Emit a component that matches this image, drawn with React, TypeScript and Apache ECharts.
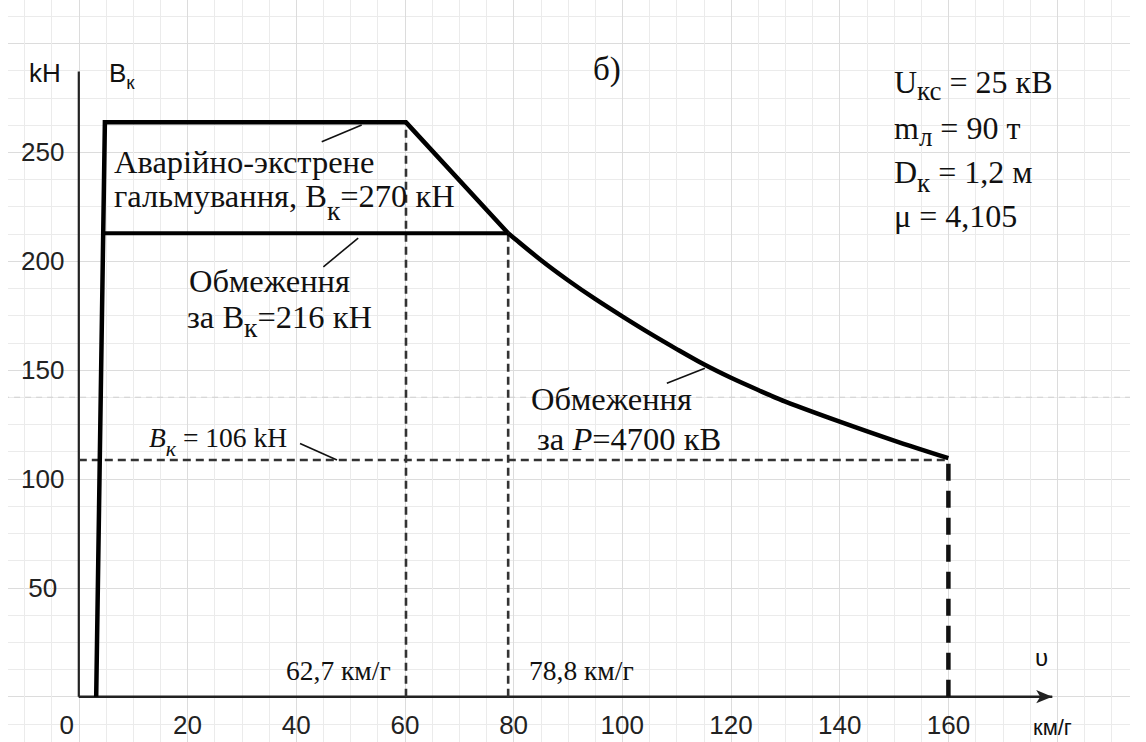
import React, { useEffect, useRef } from 'react';
import * as echarts from 'echarts';

// ---------------- data ----------------
const xTicks = [0, 20, 40, 60, 80, 100, 120, 140, 160];
const yTicks = [50, 100, 150, 200, 250];

// thick characteristic: start-up edge, emergency braking plateau, transition
const brakingEnvelope: [number, number][] = [[3.2, 0], [4.8, 263.7], [60.2, 263.7], [79, 212.8]];
// power-limited part (P = const)
const powerCurve: [number, number][] = [
  [79, 212.8], [85, 200.5], [90, 191.2], [95, 182.6], [100, 174.6], [105, 166.9],
  [110, 159.6], [115, 152.6], [120, 146.4], [125, 140.8], [130, 135.5],
  [140, 126.3], [150, 117.6], [160, 109.5],
];
const adhesionLine: [number, number][] = [[4.5, 212.8], [79, 212.8]];
const guide60: [number, number][] = [[60.2, 0], [60.2, 263.7]];
const guide79: [number, number][] = [[79, 0], [79, 212.8]];
const minForceLine: [number, number][] = [[0, 108.7], [160, 108.7]];
const vMaxLine: [number, number][] = [[160, 0], [160, 109.5]];
const helperDash: [number, number][] = [[-20, 137.5], [200, 137.5]];
const yAxisLine: [number, number][] = [[0, 0], [0, 287]];
const xAxisLine: [number, number][] = [[0, 0], [179.1, 0]];
const leaderTop: [number, number][] = [[44.7, 254.8], [52.05, 262.5]];
const leaderMid: [number, number][] = [[45.0, 197.4], [51.4, 210.5]];
const leaderPower: [number, number][] = [[108.2, 143.9], [115.2, 150.8]];
const leaderMin: [number, number][] = [[40.7, 116.3], [47.5, 108.7]];

// ---------------- styling ----------------
const SERIF = '"Liberation Serif","Times New Roman",serif';
const SANS = '"Liberation Sans",Arial,sans-serif';
const INK = '#111';
const TICK_INK = '#222';

function label(x: number, y: number, text: string, F: number, family: string, S = F, shift = 0, k = 0.3375) {
  const L = Math.round(F * 1.2);
  const p = shift + k * (F - S) + L / 2 - S / 2;
  return {
    type: 'text',
    x,
    y,
    z: 100,
    silent: true,
    style: {
      text,
      align: 'left',
      verticalAlign: 'middle',
      fill: INK,
      rich: {
        m: { fontSize: F, fontFamily: family, fill: INK, lineHeight: L, verticalAlign: 'middle' },
        i: { fontSize: F, fontFamily: family, fontStyle: 'italic', fill: INK, lineHeight: L, verticalAlign: 'middle' },
        s: { fontSize: S, fontFamily: family, fill: INK, lineHeight: 1, verticalAlign: 'top', padding: [p, 0, 0, 0] },
        si: { fontSize: S, fontFamily: family, fontStyle: 'italic', fill: INK, lineHeight: 1, verticalAlign: 'top', padding: [p, 0, 0, 0] },
      },
    },
  };
}

function lineSeries(name: string, data: [number, number][], width: number, type: any, color: string, z: number, smooth: any = false) {
  return {
    name,
    type: 'line',
    xAxisIndex: 0,
    yAxisIndex: 0,
    data,
    symbol: 'none',
    showSymbol: false,
    silent: true,
    smooth,
    clip: false,
    z,
    lineStyle: { width, type, color, join: 'miter', cap: 'butt' },
  };
}

const gridLines = {
  splitLine: { show: true, lineStyle: { color: '#dcdcdc', width: 1 } },
  minorTick: { show: false, splitNumber: 4 },
  minorSplitLine: { show: true, lineStyle: { color: '#ebebeb', width: 1 } },
};

const option: any = {
  animation: false,
  backgroundColor: '#ffffff',
  grid: [
    // background graph paper
    { left: -37.9, right: -35.8, top: -65.6, bottom: -63.6, containLabel: false, outerBoundsMode: 'none' },
    // axes whose origin is the chart origin (tick labels only)
    { left: 70.8, right: -35.8, top: -65.6, bottom: 45.3, containLabel: false, outerBoundsMode: 'none' },
  ],
  xAxis: [
    {
      gridIndex: 0, type: 'value', min: -20, max: 200, interval: 20,
      axisLine: { show: false }, axisTick: { show: false }, axisLabel: { show: false },
      ...gridLines,
    },
    {
      gridIndex: 1, type: 'value', min: 0, max: 200, interval: 20,
      axisLine: { show: false }, axisTick: { show: false }, splitLine: { show: false },
      axisLabel: {
        margin: 15,
        fontSize: 26,
        fontFamily: SANS,
        color: TICK_INK,
        formatter: (v: number) => (v === 0 ? '{z|0}' : xTicks.includes(v) ? String(v) : ''),
        rich: { z: { fontSize: 26, fontFamily: SANS, color: TICK_INK, padding: [0, 24, 0, 0] } },
      },
    },
  ],
  yAxis: [
    {
      gridIndex: 0, type: 'value', min: -50, max: 350, interval: 50,
      axisLine: { show: false }, axisTick: { show: false }, axisLabel: { show: false },
      ...gridLines,
    },
    {
      gridIndex: 1, type: 'value', min: 0, max: 350, interval: 50,
      axisLine: { show: false }, axisTick: { show: false }, splitLine: { show: false },
      axisLabel: {
        margin: 36,
        align: 'center',
        fontSize: 26,
        fontFamily: SANS,
        color: TICK_INK,
        formatter: (v: number) => (yTicks.includes(v) ? String(v) : ''),
      },
    },
  ],
  series: [
    lineSeries('helper', helperDash, 1, [6, 5], '#cfcfcf', 1),
    lineSeries('yAxisLine', yAxisLine, 2.2, 'solid', '#222', 5),
    {
      ...lineSeries('xAxisLine', xAxisLine, 2.2, 'solid', '#222', 5),
      markLine: {
        silent: true,
        symbol: ['none', 'arrow'],
        symbolSize: [10, 16],
        label: { show: false },
        lineStyle: { color: '#222', width: 2.2, type: 'solid' },
        data: [[{ coord: xAxisLine[0] }, { coord: xAxisLine[1] }]],
      },
    },
    lineSeries('guide60', guide60, 2.6, [8, 5], '#333', 6),
    lineSeries('guide79', guide79, 2.6, [8, 5], '#333', 6),
    lineSeries('minForce', minForceLine, 2.6, [8, 5], '#333', 6),
    lineSeries('vMax', vMaxLine, 4.5, [17, 10], '#111', 7),
    lineSeries('adhesion', adhesionLine, 4, 'solid', '#000', 8),
    lineSeries('envelope', brakingEnvelope, 4.5, 'solid', '#000', 9),
    lineSeries('power', powerCurve, 4.5, 'solid', '#000', 9, 0.3),
    lineSeries('leaderTop', leaderTop, 1.6, 'solid', '#111', 9),
    lineSeries('leaderMid', leaderMid, 1.6, 'solid', '#111', 9),
    lineSeries('leaderPower', leaderPower, 1.6, 'solid', '#111', 9),
    lineSeries('leaderMin', leaderMin, 1.6, 'solid', '#111', 9),
  ],
  graphic: [
    label(21, 73, '{m|kH}', 26, SANS, 26, 0, 0.3465),
    label(101, 73, '{m|B}{s|к}', 26, SANS, 19, 6.6, 0.3465),
    label(585, 69, '{m|б)}', 33, SERIF),
    label(886, 82.2, '{m|U}{s|кс}{m| = 25 кВ}', 32, SERIF, 27, 7),
    label(886, 128.2, '{m|m}{s|л}{m| = 90 т}', 32, SERIF, 27, 7),
    label(886, 172.2, '{m|D}{s|к}{m| = 1,2 м}', 32, SERIF, 27, 9),
    label(886, 216.2, '{m|μ = 4,105}', 32, SERIF),
    label(106, 162, '{m|Аварійно-экстрене}', 32.5, SERIF),
    label(106, 196, '{m|гальмування, B}{s|к}{m|=270 кН}', 32.5, SERIF, 27.5, 13),
    label(181, 281, '{m|Обмеження}', 32.5, SERIF),
    label(179, 317, '{m|за B}{s|к}{m|=216 кН}', 32.5, SERIF, 27.5, 9),
    label(523, 399, '{m|Обмеження}', 32.5, SERIF),
    label(529, 439, '{m|за }{i|P}{m|=4700 кВ}', 32.5, SERIF),
    label(141, 437.7, '{i|B}{si|к}{m| = 106 kH}', 27.5, SERIF, 22, 9),
    label(278, 670.7, '{m|62,7 км/г}', 27.5, SERIF),
    label(521, 670.7, '{m|78,8 км/г}', 27.5, SERIF),
    label(1027, 657, '{m|υ}', 24, SANS, 24, 0, 0.3465),
    label(1025, 727.4, '{m|км/г}', 22, SANS, 22, 0, 0.3465),
  ],
};

export default function App() {
  const ref = useRef<HTMLDivElement>(null);
  useEffect(() => {
    if (!ref.current) return;
    const chart = echarts.init(ref.current, undefined, { renderer: 'svg' });
    chart.setOption(option);
    return () => chart.dispose();
  }, []);
  return (
    <div
      ref={ref}
      style={{ position: 'fixed', left: 8, top: 0, width: 1122, height: 742, background: '#fff' }}
    />
  );
}
